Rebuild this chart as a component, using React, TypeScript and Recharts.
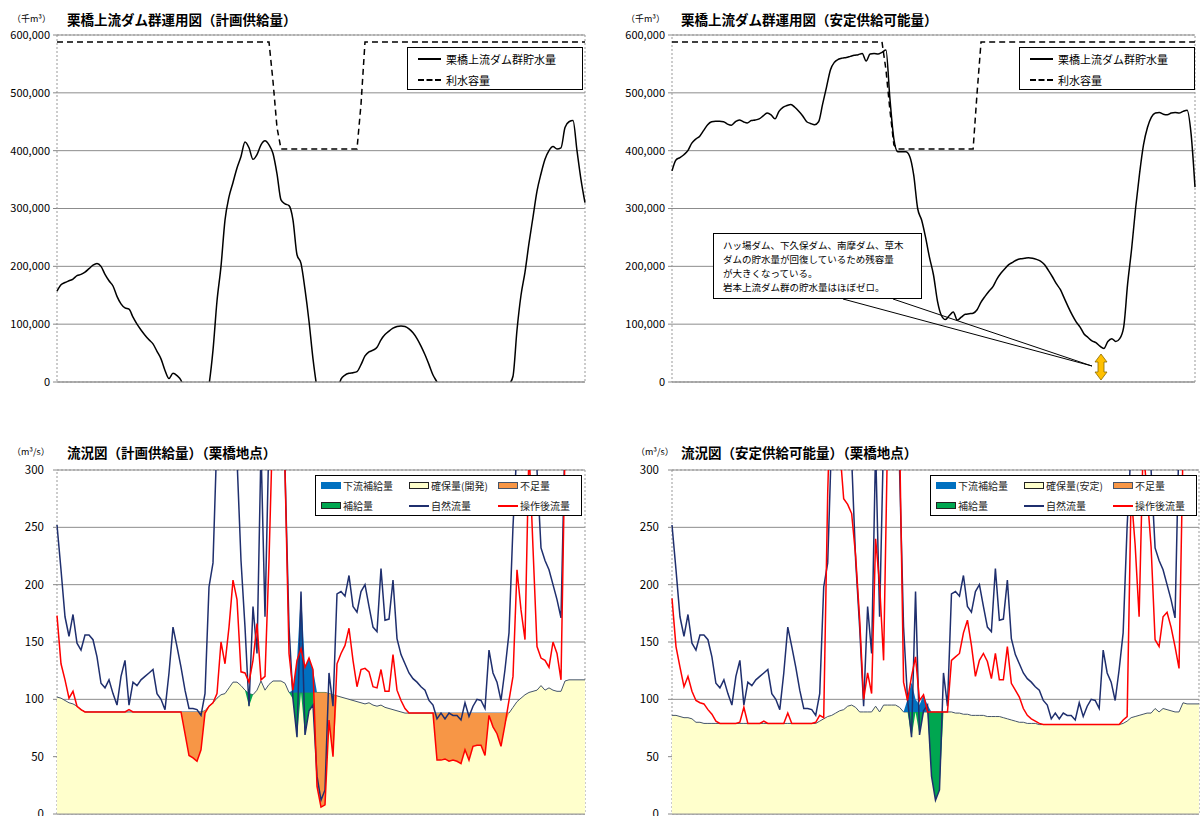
import React from "react";
import {
  ComposedChart,
  Line,
  Area,
  XAxis,
  YAxis,
  CartesianGrid,
  ReferenceArea,
} from "recharts";

const FONT = '"Noto Sans CJK JP", "Noto Sans", sans-serif';

// 横軸：日（目盛りのみ、ラベルなし）
const dayCount = 133;
const days = Array.from({ length: dayCount }, (_, i) => i);

const storageTicks = [0, 100000, 200000, 300000, 400000, 500000, 600000];
const flowTicks = [0, 50, 100, 150, 200, 250, 300];

// 栗橋上流ダム群貯水量（千m³ / 1000）計画供給量
const planStorage = [
  157, 168, 172, 175, 178, 184, 186, 190, 196, 202,
  205, 200, 186, 175, 166, 148, 135, 128, 126, 112,
  100, 90, 81, 73, 66, 53, 40, 20, 6, 15,
  11, 3, -20, -50, -70, -80, -70, -40, -5, 55,
  140, 200, 280, 320, 345, 370, 390, 415, 405, 385,
  393, 410, 417, 410, 395, 360, 315, 308, 305, 280,
  220, 205, 160, 105, 40, -10, -40, -60, -60, -40,
  -20, 5, 12, 15, 16, 18, 30, 45, 52, 55,
  60, 73, 82, 88, 93, 96, 97, 96, 92, 85,
  75, 62, 47, 30, 12, 0, -15, -30, -45, -60,
  -70, -80, -85, -90, -90, -85, -80, -70, -60, -50,
  -40, -30, -20, -5, 10, 90, 150, 190, 240, 285,
  330, 360, 385, 400, 407, 403, 405, 440, 450, 452,
  400, 350, 310,
];

// 利水容量（千m³ / 1000）計画供給量
const planCapacity = [
  588, 588, 588, 588, 588, 588, 588, 588, 588, 588,
  588, 588, 588, 588, 588, 588, 588, 588, 588, 588,
  588, 588, 588, 588, 588, 588, 588, 588, 588, 588,
  588, 588, 588, 588, 588, 588, 588, 588, 588, 588,
  588, 588, 588, 588, 588, 588, 588, 588, 588, 588,
  588, 588, 588, 588, 520, 440, 403, 403, 403, 403,
  403, 403, 403, 403, 403, 403, 403, 403, 403, 403,
  403, 403, 403, 403, 403, 403, 480, 588, 588, 588,
  588, 588, 588, 588, 588, 588, 588, 588, 588, 588,
  588, 588, 588, 588, 588, 588, 588, 588, 588, 588,
  588, 588, 588, 588, 588, 588, 588, 588, 588, 588,
  588, 588, 588, 588, 588, 588, 588, 588, 588, 588,
  588, 588, 588, 588, 588, 588, 588, 588, 588, 588,
  588, 588, 588,
];

// 栗橋上流ダム群貯水量（千m³ / 1000）安定供給可能量
const stableStorage = [
  365, 384, 388, 393, 400, 413, 420, 425, 435, 445,
  450, 451, 451, 450, 446, 444, 450, 453, 450, 448,
  452, 453, 455, 460, 465, 462, 455, 468, 475, 478,
  480, 475, 468, 460, 450, 447, 445, 450, 480, 510,
  540, 553, 558, 560, 561, 563, 565, 566, 568, 555,
  567, 568, 567, 570, 574, 490, 420, 398, 398, 398,
  390, 358, 300, 280, 250, 215, 185, 140, 115, 108,
  115, 121, 107, 112, 117, 118, 119, 125, 138, 148,
  157, 165, 178, 188, 196, 203, 207, 211, 213, 214,
  215, 214, 212, 209, 203, 193, 182, 170, 160, 145,
  130, 116, 104, 95, 83, 77, 71, 68, 62, 58,
  70, 75, 70, 75, 95, 170, 230, 300, 360, 410,
  440, 458, 465, 466, 463, 462, 465, 466, 465, 468,
  470, 430, 337,
];

// 利水容量（千m³ / 1000）安定供給可能量
const stableCapacity = [
  588, 588, 588, 588, 588, 588, 588, 588, 588, 588,
  588, 588, 588, 588, 588, 588, 588, 588, 588, 588,
  588, 588, 588, 588, 588, 588, 588, 588, 588, 588,
  588, 588, 588, 588, 588, 588, 588, 588, 588, 588,
  588, 588, 588, 588, 588, 588, 588, 588, 588, 588,
  588, 588, 588, 588, 540, 470, 410, 403, 403, 403,
  403, 403, 403, 403, 403, 403, 403, 403, 403, 403,
  403, 403, 403, 403, 403, 403, 403, 500, 588, 588,
  588, 588, 588, 588, 588, 588, 588, 588, 588, 588,
  588, 588, 588, 588, 588, 588, 588, 588, 588, 588,
  588, 588, 588, 588, 588, 588, 588, 588, 588, 588,
  588, 588, 588, 588, 588, 588, 588, 588, 588, 588,
  588, 588, 588, 588, 588, 588, 588, 588, 588, 588,
  588, 588, 588,
];

// 自然流量（m³/s）栗橋地点
const naturalFlow = [
  252, 213, 172, 155, 174, 149, 143, 156, 156, 152,
  137, 114, 110, 117, 105, 95, 120, 134, 95, 115,
  112, 117, 120, 123, 126, 105, 100, 91, 123, 163,
  146, 128, 108, 92, 92, 91, 86, 105, 198, 219,
  330, 400, 420, 400, 350, 310, 221, 163, 94, 181,
  140, 320, 172, 330, 350, 400, 380, 300, 163, 100,
  67, 194, 69, 90, 95, 33, 12, 21, 123, 94,
  192, 194, 190, 208, 181, 176, 194, 200, 181, 163,
  159, 214, 169, 170, 204, 153, 139, 131, 123, 118,
  115, 111, 108, 99, 95, 83, 88, 83, 88, 86,
  86, 82, 97, 85, 94, 100, 99, 92, 143, 123,
  115, 99, 126, 158, 251, 320, 360, 420, 450, 380,
  300, 232, 221, 213, 200, 187, 171, 330, 400, 500,
  500, 450, 400,
];

// 確保量（開発）
const planSecured = [
  102, 101, 99, 97, 96, 94, 91, 89, 89, 89,
  89, 89, 89, 89, 89, 89, 89, 89, 89, 89,
  89, 89, 89, 89, 89, 89, 89, 89, 89, 89,
  89, 89, 89, 89, 89, 89, 89, 90, 94, 97,
  101, 104, 105, 110, 115, 115, 112, 108, 105, 104,
  108, 116, 108, 113, 116, 116, 116, 114, 106, 106,
  106, 106, 106, 106, 106, 106, 106, 106, 105, 104,
  103, 102, 101, 100, 99, 98, 97, 96, 97, 95,
  94, 95, 93, 92, 91, 90, 89, 88, 88, 88,
  88, 88, 88, 88, 88, 88, 88, 88, 88, 88,
  88, 88, 88, 88, 88, 88, 88, 88, 88, 88,
  88, 88, 88, 88, 93, 98, 101, 104, 106, 107,
  108, 112, 108, 110, 108, 107, 107, 116, 117, 117,
  117, 117, 117,
];

// 操作後流量（計画供給量）
const planOperated = [
  173, 131, 117, 101, 107, 94, 91, 89, 89, 89,
  89, 89, 89, 89, 89, 89, 89, 89, 91, 89,
  89, 89, 89, 89, 89, 89, 89, 89, 89, 89,
  89, 89, 70, 51, 49, 46, 56, 88, 94, 97,
  105, 150, 131, 163, 204, 187, 124, 123, 115, 134,
  166, 117, 120, 221, 350, 400, 380, 300, 140, 108,
  134, 144, 128, 136, 126, 24, 6, 8, 82, 50,
  131, 140, 147, 162, 134, 111, 126, 127, 124, 111,
  110, 126, 107, 107, 139, 108, 99, 92, 88, 88,
  88, 88, 88, 88, 88, 47, 47, 48, 46, 47,
  46, 44, 56, 47, 59, 60, 60, 51, 86, 76,
  70, 59, 78, 99, 120, 213, 178, 152, 320, 232,
  146, 136, 134, 128, 150, 140, 117, 320, 400, 450,
  400, 350, 320,
];

// 下流補給量（上端値、補給開始日から）
const planDownstreamStart = 59;
const planDownstreamTop = [108, 134, 194, 128, 136, 126];

// 確保量（安定）
const stableSecured = [
  86, 86, 85, 84, 84, 83, 80, 80, 79, 79,
  79, 79, 79, 79, 79, 79, 79, 79, 79, 79,
  79, 79, 79, 79, 79, 79, 79, 79, 79, 79,
  79, 79, 79, 79, 79, 79, 79, 81, 83, 85,
  86, 88, 90, 91, 94, 95, 93, 89, 89, 89,
  89, 94, 89, 95, 95, 95, 95, 93, 89, 89,
  89, 89, 89, 89, 89, 89, 89, 89, 89, 89,
  89, 88, 88, 87, 87, 86, 86, 86, 86, 85,
  85, 85, 85, 84, 83, 82, 81, 80, 80, 79,
  79, 79, 78, 78, 78, 78, 78, 78, 78, 78,
  78, 78, 78, 78, 78, 78, 78, 78, 78, 78,
  78, 78, 78, 79, 81, 84, 85, 86, 87, 88,
  88, 92, 89, 92, 91, 90, 89, 89, 97, 96,
  96, 96, 96,
];

// 操作後流量（安定供給可能量）
const stableOperated = [
  188, 146, 128, 111, 120, 107, 99, 97, 96, 91,
  87, 81, 79, 79, 79, 79, 79, 80, 93, 79,
  79, 79, 79, 81, 79, 79, 79, 79, 79, 88,
  79, 79, 79, 79, 79, 79, 80, 86, 84, 280,
  400, 400, 320, 275, 270, 262, 225, 170, 100, 123,
  105, 240, 200, 134, 330, 400, 380, 330, 115, 99,
  120, 137, 99, 104, 89, 89, 89, 89, 89, 89,
  134, 137, 140, 158, 169, 147, 120, 134, 140, 133,
  118, 140, 117, 117, 146, 114, 108, 102, 92, 86,
  83, 81, 79, 78, 78, 78, 78, 78, 78, 78,
  78, 78, 78, 78, 78, 78, 78, 78, 78, 78,
  78, 78, 78, 82, 85, 280, 235, 172, 320, 280,
  233, 152, 146, 172, 176, 163, 146, 127, 320, 400,
  450, 400, 350,
];

const stableDownstreamStart = 58;
const stableDownstreamTop = [89, 100, 115, 100, 95, 104, 95];

const annotationLines = [
  "ハッ場ダム、下久保ダム、南摩ダム、草木",
  "ダムの貯水量が回復しているため残容量",
  "が大きくなっている。",
  "岩本上流ダム群の貯水量はほぼゼロ。",
];

const NAVY = "#1F2F6E";
const RED = "#FF0000";
const YELLOW = "#FFFFCC";
const ORANGE = "#F79646";
const GREEN = "#00A650";
const BLUE = "#0070C0";
const EDGE = "#44546A";

function Title({ x, y, unit, unitX, text }: { x: number; y: number; unit: string; unitX: number; text: string }) {
  return (
    <>
      <div style={{ position: "absolute", left: unitX, top: y - 7, fontSize: 9, lineHeight: "14px", fontFamily: FONT, color: "#000", whiteSpace: "nowrap" }}>
        {unit}
      </div>
      <div style={{ position: "absolute", left: x, top: y - 10, fontSize: 13.5, lineHeight: "20px", fontWeight: 700, fontFamily: FONT, color: "#000", whiteSpace: "nowrap" }}>
        {text}
      </div>
    </>
  );
}

function DamChart(props: {
  x: number;
  width: number;
  axisWidth: number;
  rightGap: number;
  storage: number[];
  capacity: number[];
}) {
  const { x, width, axisWidth, rightGap, storage, capacity } = props;
  const rows = days.map((d) => ({
    day: d,
    storage: storage[d] * 1000,
    capacity: capacity[d] * 1000,
  }));

  return (
    <div style={{ position: "absolute", left: x, top: 0 }}>
      <ComposedChart width={width} height={400} data={rows} margin={{ top: 35, right: rightGap, bottom: 0, left: 0 }}>
        <CartesianGrid vertical={false} stroke="#8c8c8c" />
        <ReferenceArea x1={0} x2={dayCount - 1} y1={0} y2={600000} fill="none" stroke="#999" strokeDasharray="2 2" />
        <XAxis
          dataKey="day"
          type="number"
          domain={[0, dayCount - 1]}
          ticks={days}
          interval={0}
          tick={false}
          height={18}
          tickSize={3}
          axisLine={{ stroke: "#999" }}
          tickLine={{ stroke: "#aaa" }}
        />
        <YAxis
          type="number"
          domain={[0, 600000]}
          ticks={storageTicks}
          allowDataOverflow
          width={axisWidth}
          tickFormatter={(v: number) => v.toLocaleString("en-US")}
          tick={{ fontSize: 11, fill: "#000", fontFamily: FONT }}
          tickSize={4}
          tickMargin={3}
          axisLine={false}
          tickLine={{ stroke: "#888" }}
        />
        <Line dataKey="capacity" type="linear" stroke="#000" strokeWidth={1.5} strokeDasharray="6 4" dot={false} activeDot={false} isAnimationActive={false} />
        <Line dataKey="storage" type="monotone" stroke="#000" strokeWidth={1.5} dot={false} activeDot={false} isAnimationActive={false} />
      </ComposedChart>
    </div>
  );
}

function FlowChart(props: {
  x: number;
  width: number;
  axisWidth: number;
  rightGap: number;
  secured: number[];
  operated: number[];
  downstreamStart: number;
  downstreamTop: number[];
}) {
  const { x, width, axisWidth, rightGap, secured, operated, downstreamStart, downstreamTop } = props;
  const rows = days.map((d) => {
    const sec = secured[d];
    const nat = naturalFlow[d];
    const op = operated[d];
    const k = d - downstreamStart;
    const top = k >= 0 && k < downstreamTop.length ? downstreamTop[k] : sec;
    return {
      day: d,
      secured: sec,
      natural: nat,
      operated: op,
      supply: [Math.min(nat, sec), sec],
      downstream: [sec, Math.max(top, sec)],
      shortage: [Math.min(op, sec), sec],
    };
  });

  return (
    <div style={{ position: "absolute", left: x, top: 440 }}>
      <ComposedChart width={width} height={400} data={rows} margin={{ top: 30, right: rightGap, bottom: 16, left: 0 }}>
        <CartesianGrid vertical={false} stroke="#8c8c8c" />
        <ReferenceArea x1={0} x2={dayCount - 1} y1={0} y2={300} fill="none" stroke="#999" strokeDasharray="2 2" />
        <XAxis
          dataKey="day"
          type="number"
          domain={[0, dayCount - 1]}
          ticks={days}
          interval={0}
          tick={false}
          height={10}
          tickSize={3}
          axisLine={{ stroke: "#999" }}
          tickLine={{ stroke: "#aaa" }}
        />
        <YAxis
          type="number"
          domain={[0, 300]}
          ticks={flowTicks}
          allowDataOverflow
          width={axisWidth}
          tick={{ fontSize: 11.5, fill: "#000", fontFamily: FONT }}
          tickSize={4}
          tickMargin={9}
          axisLine={false}
          tickLine={{ stroke: "#888" }}
        />
        <Area dataKey="secured" type="linear" fill={YELLOW} fillOpacity={1} stroke={EDGE} strokeWidth={1} dot={false} activeDot={false} isAnimationActive={false} />
        <Area dataKey="supply" type="linear" fill={GREEN} fillOpacity={1} stroke="none" dot={false} activeDot={false} isAnimationActive={false} />
        <Area dataKey="downstream" type="linear" fill={BLUE} fillOpacity={1} stroke="none" dot={false} activeDot={false} isAnimationActive={false} />
        <Area dataKey="shortage" type="linear" fill={ORANGE} fillOpacity={1} stroke="none" dot={false} activeDot={false} isAnimationActive={false} />
        <Line dataKey="natural" type="linear" stroke={NAVY} strokeWidth={1.5} dot={false} activeDot={false} isAnimationActive={false} />
        <Line dataKey="operated" type="linear" stroke={RED} strokeWidth={1.5} dot={false} activeDot={false} isAnimationActive={false} />
      </ComposedChart>
    </div>
  );
}

function TopLegend({ left }: { left: number }) {
  const row = (top: number, dashed: boolean, label: string) => (
    <div style={{ position: "absolute", left: 0, top, height: 16, width: "100%" }}>
      <div style={{ position: "absolute", left: 10, top: 7, width: 23, borderTop: dashed ? "2px dashed #000" : "2px solid #000" }} />
      <div style={{ position: "absolute", left: 38, top: 0, fontSize: 11, lineHeight: "16px", fontFamily: FONT, color: "#000", whiteSpace: "nowrap" }}>{label}</div>
    </div>
  );
  return (
    <div style={{ position: "absolute", left, top: 47, width: 176, height: 43, border: "1px solid #000", background: "#fff", boxSizing: "border-box" }}>
      {row(3, false, "栗橋上流ダム群貯水量")}
      {row(24, true, "利水容量")}
    </div>
  );
}

type LegendItem = { label: string; kind: "area" | "line"; color: string; edge?: string };

function FlowLegend({ left, securedLabel }: { left: number; securedLabel: string }) {
  const items: LegendItem[] = [
    { label: "下流補給量", kind: "area", color: BLUE, edge: BLUE },
    { label: securedLabel, kind: "area", color: YELLOW, edge: "#222" },
    { label: "不足量", kind: "area", color: ORANGE, edge: EDGE },
    { label: "補給量", kind: "area", color: GREEN, edge: "#222" },
    { label: "自然流量", kind: "line", color: NAVY },
    { label: "操作後流量", kind: "line", color: RED },
  ];
  const cols = [5, 93, 182];
  return (
    <div style={{ position: "absolute", left, top: 475, width: 267, height: 41, border: "1px solid #000", background: "#fff", boxSizing: "border-box" }}>
      {items.map((it, i) => {
        const cx = cols[i % 3];
        const cy = i < 3 ? 10 : 30;
        return (
          <div key={it.label}>
            {it.kind === "area" ? (
              <div style={{ position: "absolute", left: cx, top: cy - 4, width: 20, height: 7, background: it.color, border: `1px solid ${it.edge}`, boxSizing: "border-box" }} />
            ) : (
              <div style={{ position: "absolute", left: cx, top: cy - 1, width: 20, height: 2, background: it.color }} />
            )}
            <div style={{ position: "absolute", left: cx + 22, top: cy - 8, fontSize: 10, lineHeight: "16px", fontFamily: FONT, color: "#222", whiteSpace: "nowrap" }}>
              {it.label}
            </div>
          </div>
        );
      })}
    </div>
  );
}

export default function App() {
  return (
    <div style={{ position: "absolute", left: 0, top: 0, width: 1202, height: 816, overflow: "hidden", background: "#fff" }}>
      <DamChart x={0} width={600} axisWidth={57} rightGap={15} storage={planStorage} capacity={planCapacity} />
      <DamChart x={600} width={602} axisWidth={72} rightGap={7} storage={stableStorage} capacity={stableCapacity} />
      <FlowChart
        x={0}
        width={600}
        axisWidth={57}
        rightGap={15}
        secured={planSecured}
        operated={planOperated}
        downstreamStart={planDownstreamStart}
        downstreamTop={planDownstreamTop}
      />
      <FlowChart
        x={600}
        width={602}
        axisWidth={72}
        rightGap={3}
        secured={stableSecured}
        operated={stableOperated}
        downstreamStart={stableDownstreamStart}
        downstreamTop={stableDownstreamTop}
      />

      <Title x={67} y={19} unitX={12} unit="（千m³）" text="栗橋上流ダム群運用図（計画供給量）" />
      <Title x={681} y={19} unitX={626} unit="（千m³）" text="栗橋上流ダム群運用図（安定供給可能量）" />
      <Title x={67} y={452} unitX={12} unit="（m³/s）" text="流況図（計画供給量）（栗橋地点）" />
      <Title x={681} y={452} unitX={636} unit="（m³/s）" text="流況図（安定供給可能量）（栗橋地点）" />

      <TopLegend left={407} />
      <TopLegend left={1019} />
      <FlowLegend left={315} securedLabel="確保量(開発)" />
      <FlowLegend left={930} securedLabel="確保量(安定)" />

      <svg width={1202} height={816} style={{ position: "absolute", left: 0, top: 0, pointerEvents: "none" }}>
        <line x1={843} y1={299} x2={1092} y2={366} stroke="#000" strokeWidth={1} />
        <line x1={893} y1={299} x2={1092} y2={366} stroke="#000" strokeWidth={1} />
        <polygon
          points="1101,354 1107,362 1104,362 1104,372 1107,372 1101,380 1095,372 1098,372 1098,362 1095,362"
          fill="#FFC000"
          stroke="#8a6a00"
          strokeWidth={0.8}
        />
      </svg>
      <div
        style={{
          position: "absolute",
          left: 713,
          top: 233,
          width: 209,
          height: 66,
          border: "1px solid #000",
          background: "#fff",
          boxSizing: "border-box",
          padding: "4px 0 0 9px",
          fontFamily: FONT,
          fontSize: 9.5,
          color: "#000",
          whiteSpace: "nowrap",
        }}
      >
        {annotationLines.map((t) => (
          <div key={t} style={{ height: 14, lineHeight: "14px" }}>{t}</div>
        ))}
      </div>
    </div>
  );
}
